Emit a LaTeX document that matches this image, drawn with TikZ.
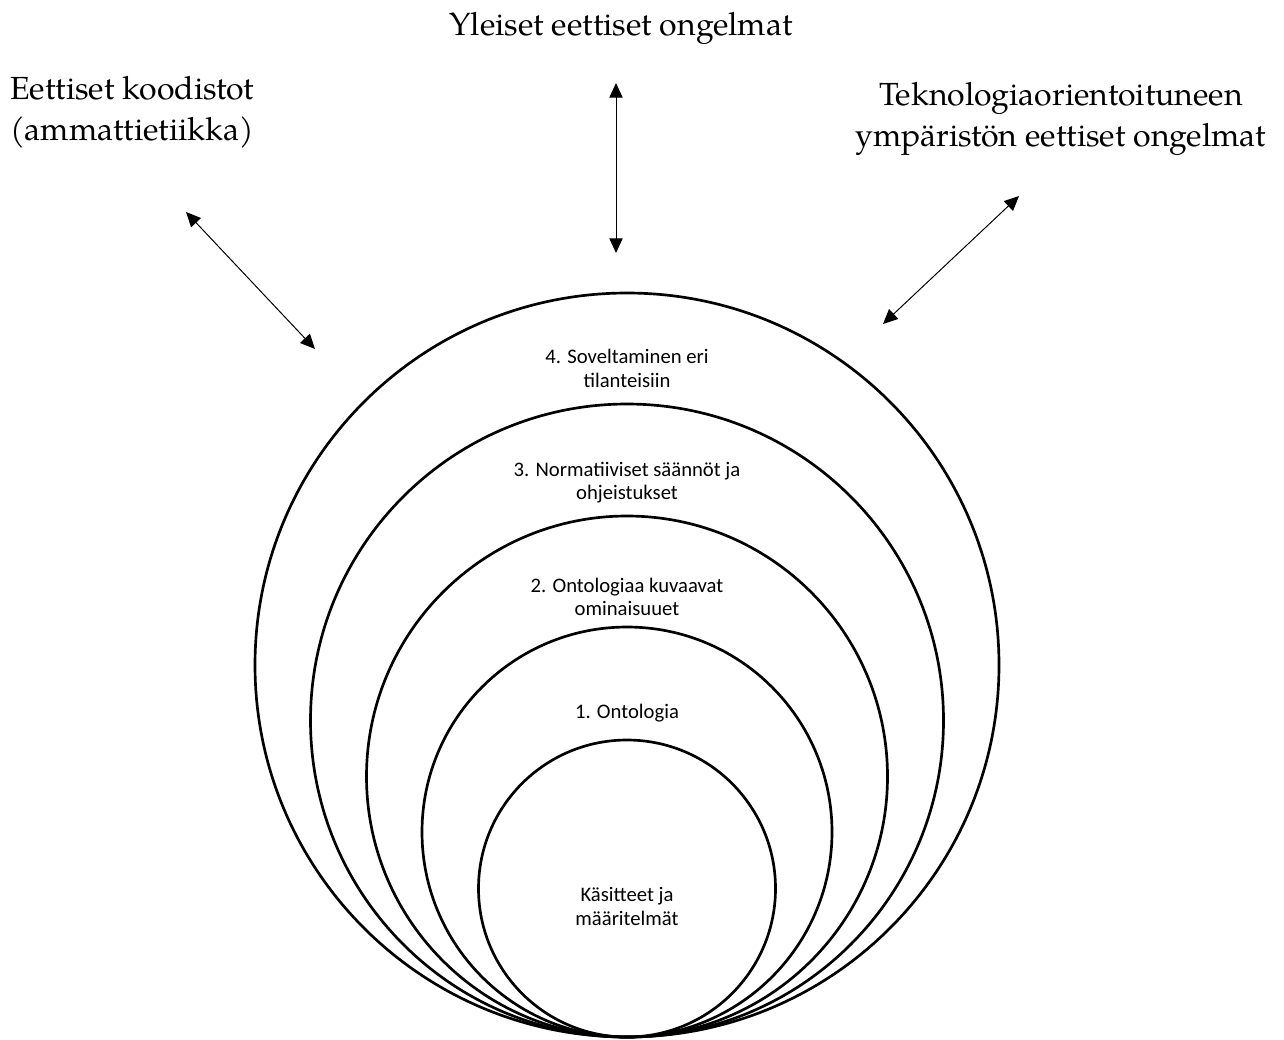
\documentclass[tikz,border=0pt]{standalone}
\usepackage{fontspec}
\setmainfont{TeX Gyre Pagella}
\newfontfamily\calfont{Carlito}
\usetikzlibrary{arrows.meta}
\begin{document}
\begin{tikzpicture}[x=0.75pt,y=-0.75pt,
  ring/.style={circle,draw,line width=2pt,inner sep=0pt,outer sep=0pt},
  intext/.style={font=\calfont\fontsize{15.5pt}{17.5pt}\selectfont,align=center,inner sep=0pt},
  outtext/.style={font=\fontsize{24pt}{30.75pt}\selectfont,inner sep=0pt},
  twoway/.style={{Triangle[length=11pt,width=10pt]}-{Triangle[length=11pt,width=10pt]},line width=0.75pt}]
\path[use as bounding box] (0,0) rectangle (1284,1039);
% nested rings, all tangent at the bottom
\node[ring,minimum size=558pt]    (c4) at (627,665) {};
\node[ring,minimum size=474.75pt] (c3) at (627,720.5) {};
\node[ring,minimum size=390.75pt] (c2) at (627,776.5) {};
\node[ring,minimum size=307.5pt]  (c1) at (627,832) {};
\node[ring,minimum size=222.75pt] (c0) at (627,888.5) {};
% ring labels
\node[intext] (t4) at (627,368.5) {4. Soveltaminen eri\\tilanteisiin};
\node[intext] (t3) at (627,482.5) {3. Normatiiviset säännöt ja\\ohjeistukset};
\node[intext] (t2) at (627,597) {2. Ontologiaa kuvaavat\\ominaisuuet};
\node[intext] (t1) at (627,713) {1. Ontologia};
\node[intext] (t0) at (627,906.5) {Käsitteet ja\\määritelmät};
% outer labels
\node[outtext] (top) at (621,28) {Yleiset eettiset ongelmat};
\node[outtext,align=left,anchor=west] (left) at (10,112) {Eettiset koodistot\\(ammattietiikka)};
\node[outtext,align=center] (right) at (1061,119) {Teknologiaorientoituneen\\ympäristön eettiset ongelmat};
% arrows
\coordinate (v1) at (616,83);
\coordinate (v2) at (616,253);
\coordinate (l1) at (186,212);
\coordinate (l2) at (315,349);
\coordinate (r1) at (1019,196);
\coordinate (r2) at (883,324);
\draw[twoway] (v1) -- (v2);
\draw[twoway] (l1) -- (l2);
\draw[twoway] (r1) -- (r2);
\end{tikzpicture}
\end{document}
